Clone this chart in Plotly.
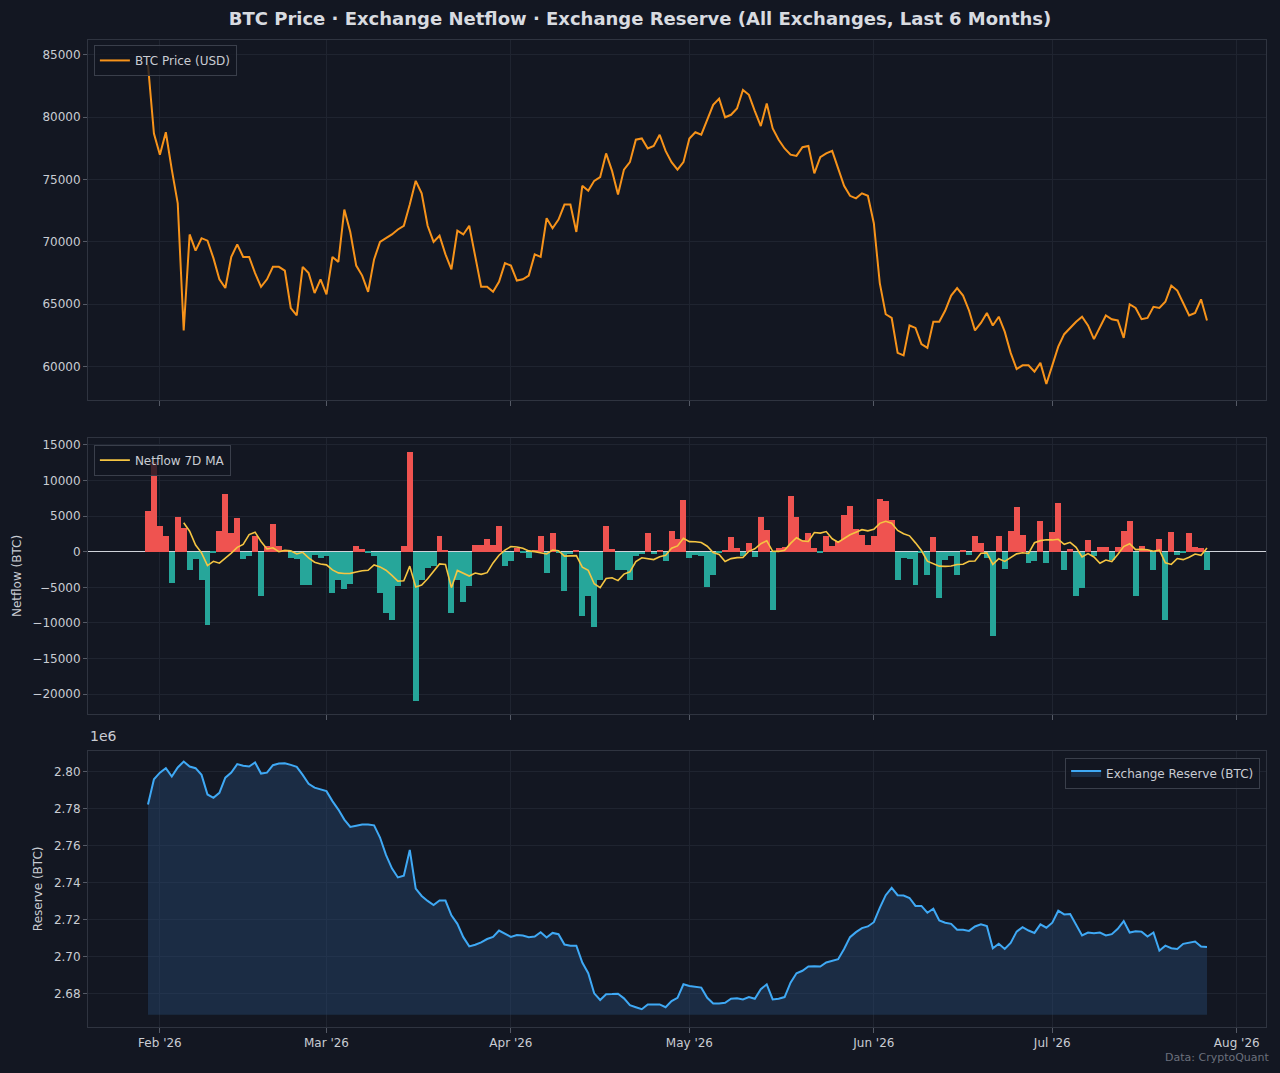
import pandas as pd
import plotly.graph_objects as go
from plotly.subplots import make_subplots

START_DATE = "2026-01-30"

btc_price = [
    84200, 78700, 77000, 78800, 75800, 73100, 62900, 70600, 69300, 70300,
    70100, 68700, 67000, 66300, 68800, 69800, 68800, 68800, 67500, 66400,
    67000, 68000, 68000, 67700, 64700, 64100, 68000, 67500, 65900, 67000,
    65800, 68800, 68400, 72600, 70800, 68100, 67300, 66000, 68600, 70000,
    70300, 70600, 71000, 71300, 73000, 74900, 73900, 71300, 70000, 70500,
    69000, 67800, 70900, 70600, 71300, 68700, 66400, 66400, 66000, 66800,
    68300, 68100, 66900, 67000, 67300, 69000, 68800, 71900, 71100, 71800,
    73000, 73000, 70800, 74500, 74100, 74900, 75200, 77100, 75700, 73800,
    75800, 76400, 78200, 78300, 77500, 77700, 78600, 77300, 76400, 75800,
    76400, 78300, 78800, 78600, 79800, 81000, 81500, 80000, 80200, 80700,
    82200, 81800, 80500, 79300, 81100, 79100, 78200, 77500, 77000, 76900,
    77600, 77700, 75500, 76800, 77100, 77300, 75900, 74500, 73700, 73500,
    73900, 73700, 71500, 66700, 64200, 63900, 61100, 60900, 63300, 63100,
    61800, 61500, 63600, 63600, 64500, 65700, 66300, 65700, 64500, 62900,
    63500, 64300, 63300, 64000, 62800, 61100, 59800, 60100, 60100, 59600,
    60300, 58600, 60100, 61600, 62600, 63100, 63600, 64000, 63300, 62200,
    63200, 64100, 63800, 63700, 62300, 65000, 64700, 63800, 63900, 64800,
    64700, 65200, 66500, 66100, 65100, 64100, 64300, 65400, 63700,
]

netflow = [
    5800, 12700, 3700, 2300, -4300, 4900, 3400, -2500, -1000, -3900,
    -10200, -100, 3000, 8100, 2700, 4700, -1000, -500, 2200, -6200,
    800, 3900, 800, 300, -800, -1000, -4600, -4600, -400, -900,
    -600, -5800, -3900, -5200, -4500, 900, 400, -200, -500, -5800,
    -8500, -9500, -4800, 800, 14100, -20900, -4000, -2300, -2000, 2300,
    200, -8600, -4000, -7000, -4800, 1000, 1000, 1800, 1000, 3600,
    -2000, -1300, 600, -200, -900, 300, 2300, -3000, 2600, -100,
    -5500, -300, 200, -9000, -6200, -10600, -4000, 3600, 400, -2600,
    -2600, -4000, -500, -300, 2600, -300, 200, -1300, 3000, 1800,
    7300, -800, -400, -600, -4900, -3200, -100, 300, 2100, 600,
    -500, 1200, -700, 4900, 3100, -8200, 500, 700, 7900, 4900,
    1700, 2600, 600, -100, 2200, 800, 1500, 5200, 6400, 3200,
    2400, 1000, 2300, 7400, 7200, 4500, -3900, -900, -1000, -4600,
    -100, -3300, 2100, -6400, -1100, -600, -3200, 200, -400, 2300,
    1300, -800, -11800, 2300, -2400, 3000, 6300, 2400, -1500, -1300,
    4400, -1500, 2800, 6900, -2500, 400, -6200, -5000, 1700, -500,
    700, 700, -1100, 700, 2900, 4400, -6200, 900, 300, -2500,
    1800, -9600, 2800, -400, -200, 2600, 700, 600, -2500,
]

# exchange reserve, thousand BTC
reserve_k = [
    2782.4, 2796.0, 2799.6, 2802.0, 2797.5, 2802.4, 2805.6, 2802.9, 2802.0, 2798.4,
    2787.8, 2786.0, 2788.7, 2796.9, 2799.6, 2804.2, 2803.3, 2802.9, 2805.1, 2799.1,
    2799.6, 2803.6, 2804.5, 2804.7, 2803.8, 2802.7, 2798.4, 2793.6, 2791.5, 2790.5,
    2789.6, 2784.2, 2779.6, 2774.2, 2770.2, 2770.9, 2771.6, 2771.6, 2771.1, 2764.5,
    2755.1, 2747.8, 2742.9, 2743.8, 2757.8, 2736.9, 2732.9, 2730.2, 2728.0, 2730.4,
    2730.4, 2722.4, 2717.8, 2710.6, 2705.6, 2706.5, 2707.8, 2709.6, 2710.7, 2714.2,
    2712.4, 2710.7, 2711.8, 2711.5, 2710.6, 2710.9, 2713.3, 2710.4, 2712.9, 2712.2,
    2706.6, 2706.0, 2706.0, 2696.9, 2691.1, 2680.2, 2676.6, 2679.7, 2679.8, 2680.0,
    2677.5, 2673.8, 2672.7, 2671.6, 2674.2, 2674.0, 2674.2, 2672.7, 2676.0, 2677.8,
    2685.1, 2684.2, 2683.8, 2683.3, 2677.8, 2674.7, 2674.7, 2675.1, 2677.3, 2677.6,
    2676.9, 2678.2, 2677.3, 2682.4, 2685.1, 2676.9, 2677.3, 2678.2, 2686.0, 2691.1,
    2692.4, 2694.7, 2694.9, 2694.7, 2696.9, 2697.6, 2698.7, 2704.2, 2710.6, 2713.3,
    2715.5, 2716.4, 2718.7, 2726.4, 2733.3, 2737.3, 2733.3, 2733.1, 2731.8, 2727.5,
    2727.5, 2723.8, 2726.0, 2719.6, 2718.4, 2717.8, 2714.6, 2714.6, 2714.0, 2716.4,
    2717.6, 2716.6, 2704.6, 2707.0, 2704.2, 2707.5, 2713.6, 2716.0, 2714.2, 2712.9,
    2717.5, 2715.7, 2718.4, 2724.9, 2722.9, 2723.1, 2716.9, 2711.5, 2713.1, 2712.7,
    2713.1, 2711.5, 2712.2, 2715.1, 2719.3, 2713.1, 2713.8, 2713.6, 2710.9,
    2713.1, 2703.3, 2706.0, 2704.6, 2704.2, 2707.0, 2707.5, 2708.2, 2705.5, 2705.3,
]

dates = pd.date_range(START_DATE, periods=len(btc_price), freq="D")
flow = pd.Series(netflow, index=dates)
ma7 = flow.rolling(7).mean()
reserve_m = [v / 1000 for v in reserve_k]
base_m = min(reserve_m) - 0.003

BG = "#131722"
GRID = "#1f2430"
TXT = "#c9ccd3"

fig = make_subplots(rows=3, cols=1, shared_xaxes=True, vertical_spacing=0.04)

fig.add_trace(go.Scatter(x=dates, y=btc_price, mode="lines", name="BTC Price (USD)",
                         line=dict(color="#f7931a", width=2), legend="legend"), row=1, col=1)

bar_colors = ["#ef5350" if v >= 0 else "#26a69a" for v in netflow]
fig.add_trace(go.Bar(x=dates, y=netflow, marker=dict(color=bar_colors, line=dict(width=0)),
                     showlegend=False, width=86400000 * 1.0), row=2, col=1)
fig.add_trace(go.Scatter(x=dates, y=ma7, mode="lines", name="Netflow 7D MA",
                         line=dict(color="#f5c542", width=1.6), legend="legend2"), row=2, col=1)

fig.add_trace(go.Scatter(x=dates, y=[base_m] * len(dates), mode="lines", line=dict(width=0),
                         showlegend=False, hoverinfo="skip"), row=3, col=1)
fig.add_trace(go.Scatter(x=dates, y=reserve_m, mode="lines", name="Exchange Reserve (BTC)",
                         line=dict(color="#3fa9f5", width=2), fill="tonexty",
                         fillcolor="rgba(38,70,110,0.45)", legend="legend3"), row=3, col=1)

legend_style = dict(bgcolor="rgba(19,23,34,0.8)", bordercolor="#3a3f4b", borderwidth=1,
                    font=dict(color=TXT, size=12))
fig.update_layout(
    width=1280, height=1073,
    paper_bgcolor=BG, plot_bgcolor=BG,
    font=dict(family="DejaVu Sans", color=TXT, size=12),
    margin=dict(l=88, r=14, t=40, b=46),
    title=dict(text="<b>BTC Price · Exchange Netflow · Exchange Reserve (All Exchanges, Last 6 Months)</b>",
               x=0.5, y=0.988, xanchor="center", font=dict(size=18, color="#d8dbe0")),
    bargap=0,
    legend=dict(x=0.005, y=0.995, xanchor="left", yanchor="top", **legend_style),
    legend2=dict(x=0.005, y=0.59, xanchor="left", yanchor="top", **legend_style),
    legend3=dict(x=0.995, y=0.273, xanchor="right", yanchor="top", **legend_style),
)

fig.update_yaxes(domain=[0.635, 1.0], row=1, col=1)
fig.update_yaxes(domain=[0.317, 0.597], row=2, col=1)
fig.update_yaxes(domain=[0.0, 0.28], row=3, col=1)

fig.update_xaxes(range=["2026-01-19 22:00", "2026-08-05 22:00"], showgrid=True, gridcolor=GRID,
                 dtick="M1", tick0="2026-02-01", tickformat="%b '%y", ticks="outside",
                 ticklen=5, tickcolor="#555a66", showline=True, linecolor="#2f3440", mirror=True,
                 zeroline=False, tickfont=dict(color=TXT, size=12))
fig.update_yaxes(showgrid=True, gridcolor=GRID, ticks="outside", ticklen=4, tickcolor="#555a66",
                 showline=True, linecolor="#2f3440", mirror=True, zeroline=False,
                 tickfont=dict(color=TXT, size=12))
fig.update_yaxes(range=[57300, 86200], dtick=5000, tickformat="d", row=1, col=1)
fig.update_yaxes(range=[-22800, 16000], dtick=5000, tickformat="d", zeroline=True, zerolinecolor="#d0d3da",
                 zerolinewidth=1.2, title=dict(text="Netflow (BTC)", font=dict(size=12, color=TXT), standoff=8),
                 row=2, col=1)
fig.update_yaxes(range=[2.662, 2.8115], dtick=0.02, tickformat=".2f",
                 title=dict(text="Reserve (BTC)", font=dict(size=12, color=TXT), standoff=8), row=3, col=1)

fig.add_annotation(text="1e6", xref="paper", yref="paper", x=0.0, y=0.285, xanchor="left", yanchor="bottom",
                   showarrow=False, font=dict(size=14, color=TXT))
fig.add_annotation(text="Data: CryptoQuant", xref="paper", yref="paper", x=1.005, y=-0.022,
                   xanchor="right", yanchor="top", showarrow=False, font=dict(size=11, color="#6b707c"))

fig.write_html("out.html", config={"displayModeBar": False},
               post_script="document.body.style.margin='0';")
